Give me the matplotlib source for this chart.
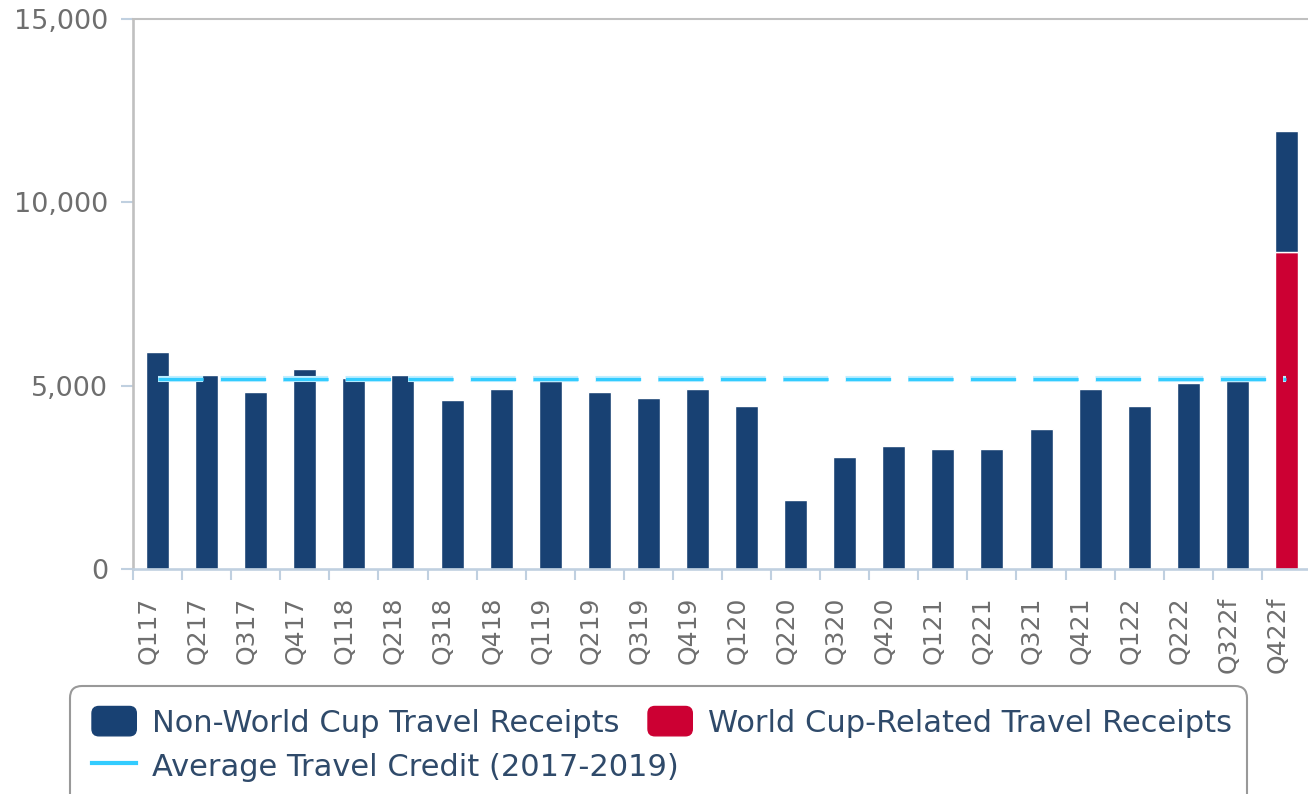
import matplotlib.pyplot as plt
import matplotlib.transforms as mtransforms
import matplotlib.patheffects as pe
from matplotlib.patches import FancyBboxPatch, Patch
from matplotlib.lines import Line2D
from matplotlib.legend_handler import HandlerPatch
from matplotlib.ticker import FuncFormatter

# Quarterly travel receipts
quarters = ["Q117", "Q217", "Q317", "Q417", "Q118", "Q218", "Q318", "Q418",
            "Q119", "Q219", "Q319", "Q419", "Q120", "Q220", "Q320", "Q420",
            "Q121", "Q221", "Q321", "Q421", "Q122", "Q222", "Q322f", "Q422f"]
non_wc = [5920, 5290, 4830, 5450, 5210, 5290, 4610, 4910,
          5130, 4830, 4660, 4910, 4450, 1880, 3050, 3350,
          3270, 3270, 3820, 4910, 4450, 5080, 5130, 3300]
wc_related = [0, 0, 0, 0, 0, 0, 0, 0,
              0, 0, 0, 0, 0, 0, 0, 0,
              0, 0, 0, 0, 0, 0, 0, 8650]
avg_credit = 5170
y_ticks = [0, 5000, 10000, 15000]

NAVY = "#184173"
RED = "#cc0033"
CYAN = "#33ccff"
LEGEND_TEXT = "#2f4a6a"

plt.rcParams["font.family"] = "DejaVu Sans"
plt.rcParams["lines.scale_dashes"] = False

fig = plt.figure(figsize=(13.08, 7.94), dpi=100)
ax = fig.add_axes([133 / 1308, 1 - 569 / 794, (1311 - 133) / 1308, (569 - 19) / 794])

x = list(range(len(quarters)))
ax.bar(x, wc_related, width=0.47, color=RED, edgecolor="white", linewidth=1, zorder=2)
ax.bar(x, non_wc, bottom=wc_related, width=0.47, color=NAVY,
       edgecolor="white", linewidth=1, zorder=2)

ax.plot(x, [avg_credit] * len(x), color=CYAN, lw=2.3, dashes=(32.5, 12.5),
        solid_capstyle="butt", dash_capstyle="butt", zorder=3,
        path_effects=[pe.Stroke(linewidth=4.4, foreground="#bfeeff"), pe.Normal()])

ax.set_xlim(-0.5, len(x) - 0.5)
ax.set_ylim(0, 15000)

# y axis
ax.set_yticks(y_ticks)
ax.yaxis.set_major_formatter(FuncFormatter(lambda v, p: f"{int(v):,}"))
ax.tick_params(axis="y", length=8.6, width=1.5, color="#c0d0e0",
               labelsize=19.5, labelcolor="#6e6e6e", pad=9.4)

# x axis: ticks on category edges, labels at centres
ax.set_xticks(x)
ax.set_xticklabels(quarters, rotation=90, va="top", ha="center")
ax.set_xticks([i - 0.5 for i in range(len(x) + 1)], minor=True)
ax.tick_params(axis="x", which="major", length=0, labelsize=18,
               labelcolor="#6e6e6e", pad=20)
ax.tick_params(axis="x", which="minor", length=8, width=1.5, color="#c0d0e0")
shift = mtransforms.ScaledTranslation(-9 / 100, 0, fig.dpi_scale_trans)
for lbl in ax.get_xticklabels():
    lbl.set_transform(lbl.get_transform() + shift)

ax.spines["right"].set_visible(False)
ax.spines["left"].set_color("#c0c0c0")
ax.spines["left"].set_linewidth(1.9)
ax.spines["top"].set_color("#c0c0c0")
ax.spines["top"].set_linewidth(1.5)
ax.spines["bottom"].set_color("#c0d0e0")
ax.spines["bottom"].set_linewidth(1.9)

# legend frame
frame = FancyBboxPatch((0.70, -0.4), 12.47 - 0.70, 1.08 + 0.4,
                       boxstyle="round,pad=0,rounding_size=0.12",
                       transform=fig.dpi_scale_trans, facecolor="white",
                       edgecolor="#999999", linewidth=1.5, clip_on=False)
fig.add_artist(frame)


def rounded_square(legend, orig_handle, xdescent, ydescent, width, height, fontsize):
    return FancyBboxPatch((-xdescent + 2, -ydescent + 2), width - 4, height - 4,
                          boxstyle="round,pad=2,rounding_size=5")


handler = {Patch: HandlerPatch(patch_func=rounded_square)}
entries = [
    (Patch(facecolor=NAVY, edgecolor=NAVY), "Non-World Cup Travel Receipts", 0.92, 0.72),
    (Patch(facecolor=RED, edgecolor=RED), "World Cup-Related Travel Receipts", 6.48, 0.72),
    (Line2D([], [], color=CYAN, lw=3), "Average Travel Credit (2017-2019)", 0.92, 0.28),
]
for handle, label, lx, ly in entries:
    fig.legend([handle], [label], loc="center left", bbox_to_anchor=(lx, ly),
               bbox_transform=fig.dpi_scale_trans, frameon=False,
               borderpad=0, borderaxespad=0, handlelength=1.45, handleheight=1.1,
               handletextpad=0.5, fontsize=22, labelcolor=LEGEND_TEXT,
               handler_map=handler)

fig.savefig("out.png", dpi=100)
